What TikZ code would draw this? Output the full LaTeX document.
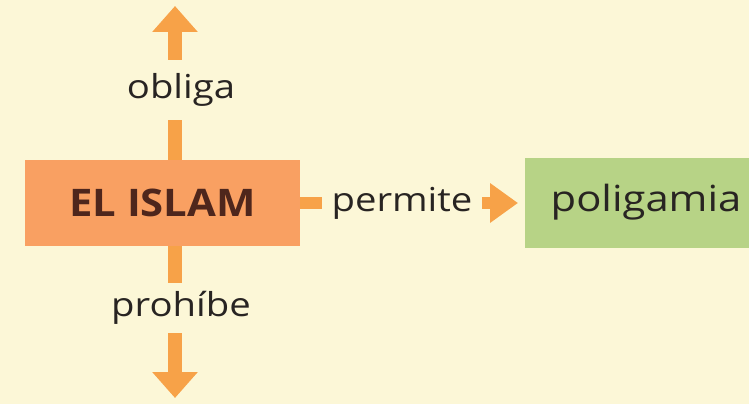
\documentclass[tikz,border=0pt]{standalone}
\usepackage{fontspec}
\setmainfont{Open Sans}
\usetikzlibrary{arrows.meta}
\definecolor{bg}{RGB}{252,247,215}
\definecolor{boxor}{RGB}{249,160,98}
\definecolor{arror}{RGB}{247,162,72}
\definecolor{boxgr}{RGB}{183,211,134}
\definecolor{txt}{RGB}{40,36,34}
\definecolor{istxt}{RGB}{78,38,28}
\newcommand{\wide}[1]{\scalebox{1.16}[1]{#1}}
\tikzset{
  conn/.style={draw=arror, line width=14pt},
  head/.style={-{Triangle[width=44pt,length=26pt]}},
  lbl/.style={text=txt, font=\fontsize{33}{36}\selectfont, inner sep=0pt, fill=bg},
}
\begin{document}
\begin{tikzpicture}[x=1pt,y=-1pt]
\fill[bg] (0,0) rectangle (749,404);
\useasboundingbox (0,0) rectangle (749,404);
\begin{scope}
\clip (0,0) rectangle (749,404);
\node[fill=boxgr, minimum width=240pt, minimum height=90pt, inner sep=0pt, anchor=west] (poly) at (525,203) {};
\end{scope}
\node[text=txt, font=\fontsize{36}{40}\selectfont, inner sep=0pt] (polytxt) at (646,202) {\wide{poligamia}};
\node[fill=boxor, minimum width=275pt, minimum height=86pt, inner sep=0pt, text=istxt, font=\bfseries\fontsize{38}{42}\selectfont] (islam) at (162.5,203) {\scalebox{1.1}[1]{EL ISLAM}};
\node[lbl, minimum height=60pt] (obliga) at (181,90) {\wide{obliga}};
\node[lbl, minimum height=50pt] (prohibe) at (181,308) {\wide{prohíbe}};
\node[lbl, minimum width=160pt, minimum height=40pt] (permite) at (402,203) {\wide{permite}};
\coordinate (topend) at (175,6);
\coordinate (botend) at (175,398);
\draw[conn] (islam.north -| topend) -- (obliga.south -| topend);
\draw[conn, head] (obliga.north -| topend) -- (topend);
\draw[conn] (islam.south -| botend) -- (prohibe.north -| botend);
\draw[conn, head] (prohibe.south -| botend) -- (botend);
\draw[conn, line width=12pt] (islam.east |- permite) -- (permite.west);
\draw[conn, line width=12pt, -{Triangle[width=38pt,length=28pt]}, shorten >=7pt] (permite.east) -- (poly.west |- permite);
\end{tikzpicture}
\end{document}
